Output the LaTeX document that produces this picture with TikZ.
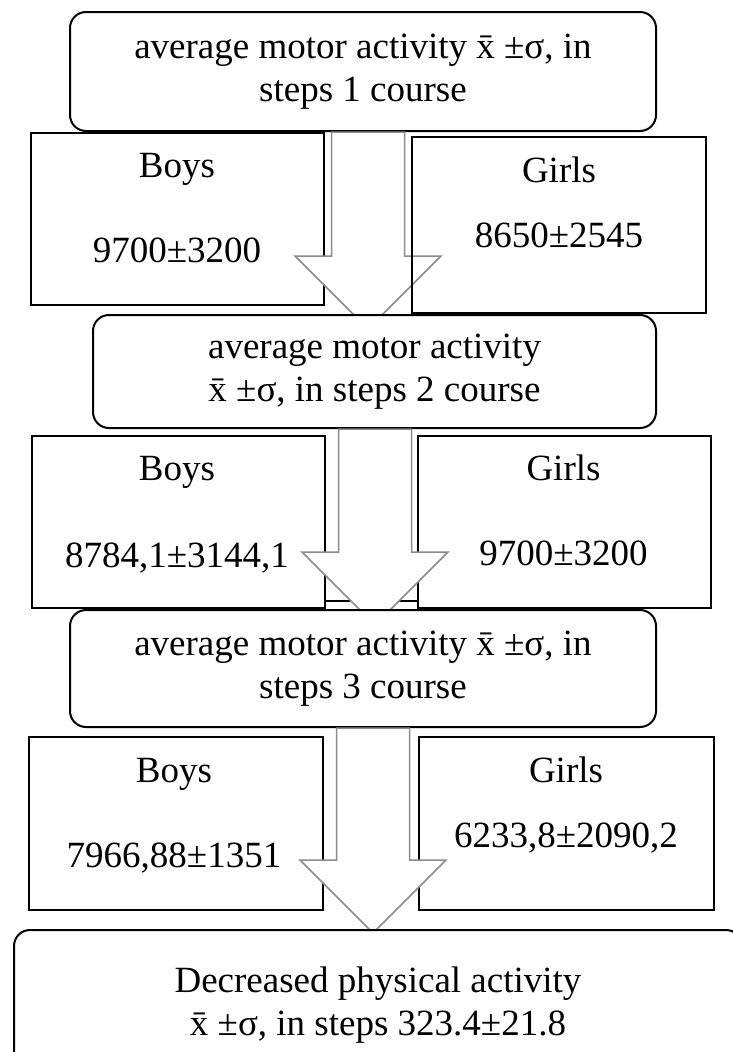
\documentclass[tikz,border=0pt]{standalone}
\usepackage{fontspec}
\setmainfont{Liberation Serif}

\begin{document}
\begin{tikzpicture}[x=1pt,y=-1pt,
   font=\fontsize{37}{43}\selectfont,
   coursebox/.style={draw,line width=2pt,rounded corners=16pt,fill=white,align=center,inner sep=0pt},
   groupbox/.style={draw,line width=2pt},
   fatarrow/.style={draw=gray!90,line width=1.5pt,fill=white,
     to path={([xshift=-36.5pt]\tikztostart) -- ([xshift=-36.5pt,yshift=73pt]\tikztotarget)
       -- ([xshift=-73pt,yshift=73pt]\tikztotarget) -- (\tikztotarget)
       -- ([xshift=73pt,yshift=73pt]\tikztotarget) -- ([xshift=36.5pt,yshift=73pt]\tikztotarget)
       -- ([xshift=36.5pt]\tikztostart) -- cycle}}]
\useasboundingbox (0,0) rectangle (732,1052);

\node[coursebox,minimum width=586pt,minimum height=119pt] (avg1) at (363,71.5)
  {average motor activity \={x} ±σ, in\\steps 1 course};
\node[groupbox,minimum width=293pt,minimum height=172pt] (boys1) at (177.5,219) {};
\node[anchor=base] (boys1a) at (177,177) {Boys};
\node[anchor=base] (boys1b) at (177,262) {9700±3200};
\coordinate (tip1) at (368,329);
\coordinate (s1) at (tip1 |- avg1.south);
\draw[fatarrow] (s1) to (tip1);
\node[groupbox,minimum width=294pt,minimum height=176pt] (girls1) at (559,225) {};
\node[anchor=base] (girls1a) at (559,182) {Girls};
\node[anchor=base] (girls1b) at (559,247) {8650±2545};

\node[coursebox,minimum width=563pt,minimum height=113pt] (avg2) at (374.5,371.5)
  {average motor activity\\\={x} ±σ, in steps 2 course};
\node[groupbox,minimum width=293pt,minimum height=172pt] (boys2) at (178.5,522) {};
\node[anchor=base] (boys2a) at (177,480) {Boys};
\node[anchor=base] (boys2b) at (177,567) {8784,1±3144,1};
\node[groupbox,minimum width=293pt,minimum height=172pt] (girls2) at (564.5,522) {};
\node[anchor=base] (girls2a) at (563.5,480) {Girls};
\node[anchor=base] (girls2b) at (563.5,565) {9700±3200};
\draw[line width=2pt] ([yshift=8pt]boys2.south east) -- ([yshift=8pt]girls2.south west);
\coordinate (tip2) at (375,625);
\coordinate (s2) at (tip2 |- avg2.south);
\draw[fatarrow] (s2) to (tip2);

\node[coursebox,minimum width=586pt,minimum height=117pt] (avg3) at (363,668.5)
  {average motor activity \={x} ±σ, in\\steps 3 course};
\node[groupbox,minimum width=294pt,minimum height=173pt] (boys3) at (176,823.5) {};
\node[anchor=base] (boys3a) at (174,782) {Boys};
\node[anchor=base] (boys3b) at (174,867) {7966,88±1351};
\node[groupbox,minimum width=295pt,minimum height=173pt] (girls3) at (566.5,823.5) {};
\node[anchor=base] (girls3a) at (566,782) {Girls};
\node[anchor=base] (girls3b) at (566,847) {6233,8±2090,2};
\coordinate (tip3) at (373,933);
\coordinate (s3) at (tip3 |- avg3.south);
\draw[fatarrow] (s3) to (tip3);

\node[coursebox,minimum width=728pt,minimum height=150pt] (total) at (378,1005)
  {Decreased physical activity\\\={x} ±σ, in steps 323.4±21.8};
\end{tikzpicture}
\end{document}
